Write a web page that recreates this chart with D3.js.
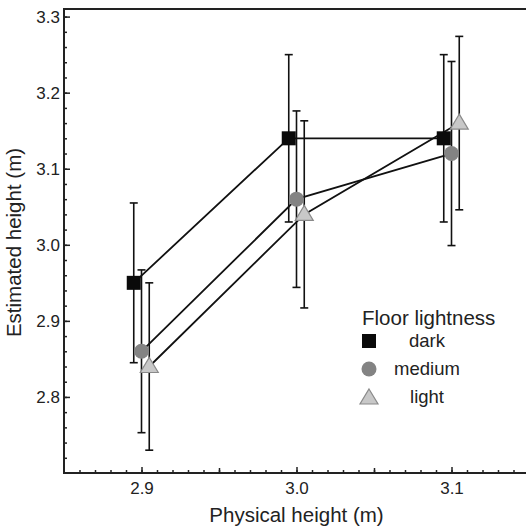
<!DOCTYPE html>
<html>
<head>
<meta charset="utf-8">
<script src="https://cdn.jsdelivr.net/npm/d3@7"></script>
<style>
  body { margin: 0; background: #fff; }
  text { font-family: "Liberation Sans", Arial, sans-serif; fill: #222; }
</style>
</head>
<body>
<div id="chart"></div>
<script>
// data
const physical = [2.9, 3.0, 3.1]
const series = ["dark", "medium", "light"]
const darkMean = [2.95, 3.14, 3.14]
const darkErr = [0.105, 0.11, 0.11]
const mediumMean = [2.86, 3.06, 3.12]
const mediumErr = [0.107, 0.116, 0.121]
const lightMean = [2.84, 3.04, 3.16]
const lightErr = [0.11, 0.123, 0.114]
const yTicks = [2.8, 2.9, 3.0, 3.1, 3.2, 3.3]
const xTicks = [2.9, 3.0, 3.1]

const width = 526
const height = 528
const margin = {top: 9, left: 64, bottom: 55}

// a little horizontal jitter so the three groups don't sit on top of each other
const jitter = {dark: -0.005, medium: 0, light: 0.005}

const means = {dark: darkMean, medium: mediumMean, light: lightMean}
const errs = {dark: darkErr, medium: mediumErr, light: lightErr}

const svg = d3.select("#chart").append("svg")
    .attr("width", width).attr("height", height)

const x = d3.scaleLinear().domain([2.85, 3.15]).range([margin.left, 529])
const y = d3.scaleLinear().domain([2.7, 3.31]).range([height - margin.bottom, margin.top])

// frame (right side falls just outside the picture)
svg.append("rect")
    .attr("x", x(2.85)).attr("y", y(3.31))
    .attr("width", x(3.15) - x(2.85)).attr("height", y(2.7) - y(3.31))
    .attr("fill", "none").attr("stroke", "#222").attr("stroke-width", 2)

// y axis: minor + major ticks, both pointing inwards
svg.append("g").attr("transform", `translate(${margin.left},0)`)
    .call(d3.axisLeft(y).tickValues(d3.range(2.72, 3.31, 0.02)).tickSize(-3).tickFormat(""))
svg.append("g").attr("transform", `translate(${margin.left},0)`)
    .call(d3.axisLeft(y).tickValues(yTicks).tickSize(-6).tickPadding(4).tickFormat(d3.format(".1f")))

svg.append("g").attr("transform", `translate(0,${y(2.7)})`)
    .call(d3.axisBottom(x).tickValues(d3.range(2.86, 3.15, 0.01)).tickSize(-3).tickFormat(""))
svg.append("g").attr("transform", `translate(0,${y(2.7)})`)
    .call(d3.axisBottom(x).tickValues([2.95, 3.05]).tickSize(-5).tickFormat(""))
svg.append("g").attr("transform", `translate(0,${y(2.7)})`)
    .call(d3.axisBottom(x).tickValues(xTicks).tickSize(-6).tickPadding(9).tickFormat(d3.format(".1f")))

svg.selectAll(".domain").remove()
svg.selectAll(".tick line").attr("stroke", "#222").attr("stroke-width", 1.5)
svg.selectAll(".tick text").attr("font-size", 17).attr("fill", "#222")
    .attr("font-family", "Liberation Sans, Arial, sans-serif")

// axis titles
svg.append("text")
    .attr("x", x(3.0)).attr("y", 522)
    .attr("text-anchor", "middle").attr("font-size", 20.5)
    .text("Physical height (m)")
svg.append("text")
    .attr("transform", `translate(21,${y(3.003)}) rotate(-90)`)
    .attr("text-anchor", "middle").attr("font-size", 20.5)
    .text("Estimated height (m)")

// build the points per series
const pts = s => physical.map((p, i) => ({px: p + jitter[s], m: means[s][i], e: errs[s][i]}))

const plot = svg.append("g")

// error bars
series.forEach(s => {
    const g = plot.append("g")
    pts(s).forEach(d => {
        g.append("line").attr("x1", x(d.px)).attr("x2", x(d.px))
            .attr("y1", y(d.m - d.e)).attr("y2", y(d.m + d.e))
        ;[d.m - d.e, d.m + d.e].forEach(v => {
            g.append("line").attr("x1", x(d.px) - 4).attr("x2", x(d.px) + 4)
                .attr("y1", y(v)).attr("y2", y(v))
        })
    })
    g.selectAll("line").attr("stroke", "#111").attr("stroke-width", 1.6)
})

// connecting lines
const line = d3.line().x(d => x(d.px)).y(d => y(d.m))
series.forEach(s => {
    plot.append("path").datum(pts(s))
        .attr("d", line).attr("fill", "none")
        .attr("stroke", "#111").attr("stroke-width", 1.8)
})

// markers
function marker(g, s, cx, cy) {
    if (s === "dark") {
        g.append("rect").attr("x", cx - 7).attr("y", cy - 7)
            .attr("width", 14).attr("height", 14).attr("fill", "#0a0a0a")
    } else if (s === "medium") {
        g.append("circle").attr("cx", cx).attr("cy", cy).attr("r", 7.5)
            .attr("fill", "#838383")
    } else {
        g.append("path")
            .attr("d", `M${cx},${cy - 9} L${cx + 9},${cy + 6} L${cx - 9},${cy + 6} Z`)
            .attr("fill", "#c8c8c8").attr("stroke", "#8a8a8a").attr("stroke-width", 1.2)
    }
}
series.forEach(s => {
    pts(s).forEach(d => marker(plot, s, x(d.px), y(d.m)))
})

// legend
const legend = svg.append("g")
legend.append("text").attr("x", 362).attr("y", 325)
    .attr("font-size", 20.5).text("Floor lightness")
series.forEach((s, i) => {
    const cy = 341 + i * 28
    marker(legend, s, 369, s === "light" ? cy + 1 : cy)
    legend.append("text").attr("x", 427).attr("y", cy + 6)
        .attr("text-anchor", "middle").attr("font-size", 18.5).text(s)
})
</script>
</body>
</html>
